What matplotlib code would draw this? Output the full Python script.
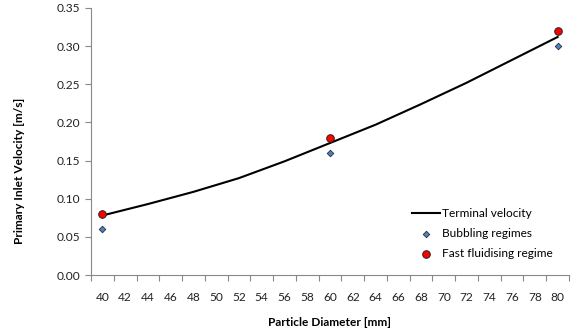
import matplotlib
matplotlib.use("Agg")
import matplotlib.pyplot as plt
import numpy as np

# === Data ===
diam_curve = [40, 44, 48, 52, 56, 60, 64, 68, 72, 76, 80]
terminal_vel = [0.078, 0.093, 0.109, 0.127, 0.149, 0.173, 0.197, 0.224, 0.252, 0.282, 0.312]

diam_pts = [40, 60, 80]
bubbling = [0.06, 0.16, 0.30]
fast_fluid = [0.08, 0.18, 0.32]

x_ticklabels = list(range(40, 81, 2))
y_ticks = [0.00, 0.05, 0.10, 0.15, 0.20, 0.25, 0.30, 0.35]

plt.rcParams['font.family'] = ['Lato', 'DejaVu Sans']
FS = 8.6

fig = plt.figure(figsize=(5.79, 3.33), dpi=100)
ax = fig.add_axes([91 / 579, 1 - 275 / 333, (569 - 91) / 579, (275 - 8) / 333])

ax.plot(diam_curve, terminal_vel, color='black', lw=1.5, label='Terminal velocity',
        solid_joinstyle='round', zorder=2)
ax.scatter(diam_pts, bubbling, marker='D', s=11, color='#4f81bd', edgecolor='#1f2d3d',
           linewidths=0.6, label='Bubbling regimes', zorder=3)
ax.scatter(diam_pts, fast_fluid, marker='o', s=30, color='#ff0000', edgecolor='#222222',
           linewidths=0.7, label='Fast fluidising regime', zorder=4)

ax.set_xlim(39, 81)
ax.set_ylim(0, 0.35)
# ticks on odd values, labels on even values (category-style axis)
ax.set_xticks(np.arange(39, 82, 2))
ax.set_xticklabels([])
ax.set_xticks(x_ticklabels, minor=True)
ax.set_xticklabels([str(v) for v in x_ticklabels], minor=True)
ax.tick_params(axis='x', which='minor', length=0, pad=12, labelsize=FS, colors='#222222')
ax.tick_params(axis='x', which='major', length=4, color='#888888', direction='out')
ax.set_yticks(y_ticks)
ax.set_yticklabels([f"{v:.2f}" for v in y_ticks])
ax.tick_params(axis='y', length=4, color='#888888', labelsize=FS, labelcolor='#222222')

for s in ['top', 'right']:
    ax.spines[s].set_visible(False)
for s in ['left', 'bottom']:
    ax.spines[s].set_color('#888888')
    ax.spines[s].set_linewidth(0.8)

ax.set_xlabel('Particle Diameter [mm]', fontsize=FS, fontweight='bold', labelpad=10)
ax.set_ylabel('Primary Inlet Velocity [m/s]', fontsize=FS, fontweight='bold')
ax.yaxis.set_label_coords(-0.138, 0.39)

ax.legend(loc='upper left', bbox_to_anchor=(0.661, 0.269), frameon=False, fontsize=FS,
          handlelength=2.35, handletextpad=0.2, labelspacing=0.75, borderaxespad=0)

fig.savefig('out.png', dpi=100)
